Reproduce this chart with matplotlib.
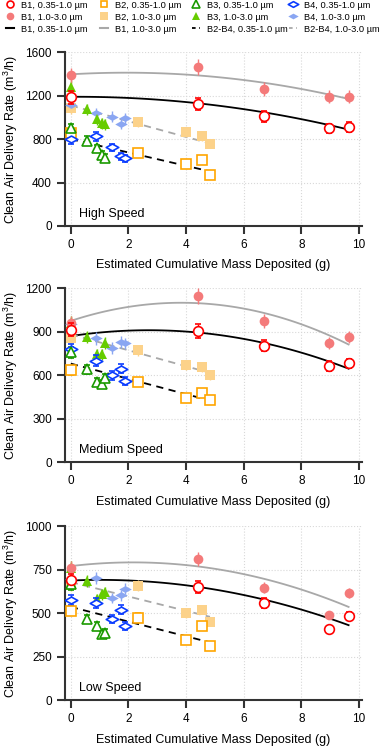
import numpy as np
import matplotlib
matplotlib.use('Agg')
import matplotlib.pyplot as plt
from matplotlib.path import Path
from matplotlib.lines import Line2D

plt.rcParams['font.family'] = ['Liberation Sans', 'DejaVu Sans']
plt.rcParams['mathtext.fontset'] = 'custom'
plt.rcParams['mathtext.rm'] = 'Liberation Sans'

# cumulative mass deposited (g) for each unit
x_b1 = [0, 4.43, 6.69, 8.97, 9.64]
x_b2 = [0, 2.34, 4.01, 4.57, 4.83]
x_b3 = [0, 0.58, 0.90, 1.10, 1.19]
x_b4 = [0, 0.88, 1.42, 1.76, 1.88]

speeds = ['High Speed', 'Medium Speed', 'Low Speed']
ylims = [1600, 1200, 1000]
yticks = [[0, 400, 800, 1200, 1600], [0, 300, 600, 900, 1200], [0, 250, 500, 750, 1000]]

# CADR (m3/h), 0.35-1.0 um ("fine") and 1.0-3.0 um ("coarse"), per speed
b1_fine = [[1185, 1123, 1012, 898, 908], [915, 905, 805, 662, 681], [690, 651, 559, 407, 483]]
b1_coarse = [[1388, 1462, 1265, 1191, 1191], [962, 1147, 974, 824, 865], [761, 811, 647, 489, 616]]
b2_fine = [[858, 668, 569, 606, 474], [635, 556, 443, 478, 427], [513, 475, 344, 426, 311]]
b2_coarse = [[1090, 960, 862, 828, 754], [858, 771, 667, 655, 598], [660, 658, 500, 521, 450]]
b3_fine = [[898, 785, 714, 658, 628], [757, 640, 550, 540, 580], [666, 464, 426, 378, 387]]
b3_coarse = [[1283, 1074, 982, 945, 935], [962, 863, 743, 743, 824], [761, 683, 584, 609, 620]]
b4_fine = [[797, 828, 723, 643, 622], [778, 701, 600, 646, 558], [574, 559, 466, 521, 426]]
b4_coarse = [[1114, 1037, 1006, 938, 991], [951, 854, 789, 831, 819], [699, 704, 588, 603, 641]]

# fitted curves: B1 quadratic at x = 0, 4.82, 9.64
fit_x_b1 = [0, 4.82, 9.64]
fit_b1_fine = [[1190, 1118, 888], [870, 886, 645], [688, 641, 431]]
fit_b1_coarse = [[1397, 1378, 1170], [975, 1092, 812], [771, 760, 536]]
# B2-B4 linear fits at x = 0 and 4.83
fit_x_b24 = [0, 4.83]
fit_b24_fine = [[800, 503], [680, 425], [536, 332]]
fit_b24_coarse = [[1110, 760], [882, 616], [679, 479]]

rel_err = 0.05

diamond = Path([(-1, 0), (0, 0.55), (1, 0), (0, -0.55), (-1, 0)],
               [Path.MOVETO, Path.LINETO, Path.LINETO, Path.LINETO, Path.CLOSEPOLY])

red, pink = '#ff0000', '#f47a7a'
orange, lorange = '#ffa500', '#fcd28a'
green, lgreen = '#1a9a00', '#66cc00'
blue, lblue = '#0a3cff', '#8aa6f2'
grey = '#a8a8a8'

open_style = dict(mfc='white', mew=1.2, ls='none', capsize=2.5, elinewidth=1.0, capthick=1.0)
fill_style = dict(ls='none', capsize=2.5, elinewidth=1.0, capthick=1.0, mew=0)

fig = plt.figure(figsize=(3.87, 7.47), dpi=100)
bottoms = [0.6975, 0.3815, 0.0629]

for i in range(3):
    ax = fig.add_axes([0.168, bottoms[i], 0.767, 0.2325])
    ax.set_xlim(-0.2, 10.1)
    ax.set_ylim(0, ylims[i])
    ax.set_xticks([0, 2, 4, 6, 8, 10])
    ax.set_yticks(yticks[i])
    ax.grid(True, ls=':', color='#d8d8d8', lw=0.8)
    ax.set_axisbelow(True)
    for s in ['top', 'right']:
        ax.spines[s].set_visible(False)
    for s in ['left', 'bottom']:
        ax.spines[s].set_linewidth(1.5)
        ax.spines[s].set_color('#333333')
    ax.tick_params(direction='out', length=6, width=1.5, color='#333333', labelsize=8.5)

    # fits
    xf = np.linspace(0, max(fit_x_b1), 100)
    cf = np.polyfit(fit_x_b1, fit_b1_fine[i], 2)
    cc = np.polyfit(fit_x_b1, fit_b1_coarse[i], 2)
    ax.plot(xf, np.polyval(cf, xf), color='black', lw=1.3, zorder=2)
    ax.plot(xf, np.polyval(cc, xf), color=grey, lw=1.3, zorder=2)
    ax.plot(fit_x_b24, fit_b24_fine[i], color='black', lw=1.3, ls=(0, (4, 3)), zorder=2)
    ax.plot(fit_x_b24, fit_b24_coarse[i], color=grey, lw=1.3, ls=(0, (4, 3)), zorder=2)

    def pts(x, y, col, mk, ms, filled):
        y = np.array(y)
        if filled:
            ax.errorbar(x, y, yerr=rel_err * y, marker=mk, ms=ms, color=col, mfc=col, ecolor=col, zorder=3, **fill_style)
        else:
            ax.errorbar(x, y, yerr=rel_err * y, marker=mk, ms=ms, color=col, mec=col, ecolor=col, zorder=4, **open_style)

    pts(x_b2, b2_coarse[i], lorange, 's', 7, True)
    pts(x_b4, b4_coarse[i], lblue, diamond, 9, True)
    pts(x_b3, b3_coarse[i], lgreen, '^', 7, True)
    pts(x_b1, b1_coarse[i], pink, 'o', 7, True)
    pts(x_b2, b2_fine[i], orange, 's', 6.5, False)
    pts(x_b4, b4_fine[i], blue, diamond, 9, False)
    pts(x_b3, b3_fine[i], green, '^', 7, False)
    pts(x_b1, b1_fine[i], red, 'o', 7, False)

    ax.text(0.28, ylims[i] * 0.07, speeds[i], fontsize=9, va='center')
    ax.set_xlabel('Estimated Cumulative Mass Deposited (g)', fontsize=9, labelpad=6)
    ax.set_ylabel('Clean Air Delivery Rate (m$^3$/h)', fontsize=9, labelpad=4)

# legend: four columns of three entries
columns = [
    ([Line2D([], [], marker='o', ls='none', color=red, mfc='white', mew=1.2, ms=5),
      Line2D([], [], marker='o', ls='none', color=pink, mew=0, ms=5.5),
      Line2D([], [], color='black', lw=1.5)],
     ['B1, 0.35-1.0 µm', 'B1, 1.0-3.0 µm', 'B1, 0.35-1.0 µm']),
    ([Line2D([], [], marker='s', ls='none', color=orange, mfc='white', mew=1.2, ms=5),
      Line2D([], [], marker='s', ls='none', color=lorange, mew=0, ms=5.5),
      Line2D([], [], color=grey, lw=1.5)],
     ['B2, 0.35-1.0 µm', 'B2, 1.0-3.0 µm', 'B1, 1.0-3.0 µm']),
    ([Line2D([], [], marker='^', ls='none', color=green, mfc='white', mew=1.2, ms=5.5),
      Line2D([], [], marker='^', ls='none', color=lgreen, mew=0, ms=6),
      Line2D([], [], color='black', lw=1.3, ls=(0, (2, 2)))],
     ['B3, 0.35-1.0 µm', 'B3, 1.0-3.0 µm', 'B2-B4, 0.35-1.0 µm']),
    ([Line2D([], [], marker=diamond, ls='none', color=blue, mfc='white', mew=1.2, ms=7.5),
      Line2D([], [], marker=diamond, ls='none', color=lblue, mew=0, ms=7.5),
      Line2D([], [], color=grey, lw=1.3, ls=(0, (2, 2)))],
     ['B4, 0.35-1.0 µm', 'B4, 1.0-3.0 µm', 'B2-B4, 1.0-3.0 µm']),
]
col_left = [6, 100, 192, 289]
for (h, l), xl in zip(columns, col_left):
    fig.legend(h, l, loc='upper left', bbox_to_anchor=(xl / 387, 0.999), frameon=False,
               fontsize=6.7, handlelength=0.85, handletextpad=0.8, labelspacing=0.32,
               borderpad=0, borderaxespad=0)

fig.savefig('out.png', dpi=100)
